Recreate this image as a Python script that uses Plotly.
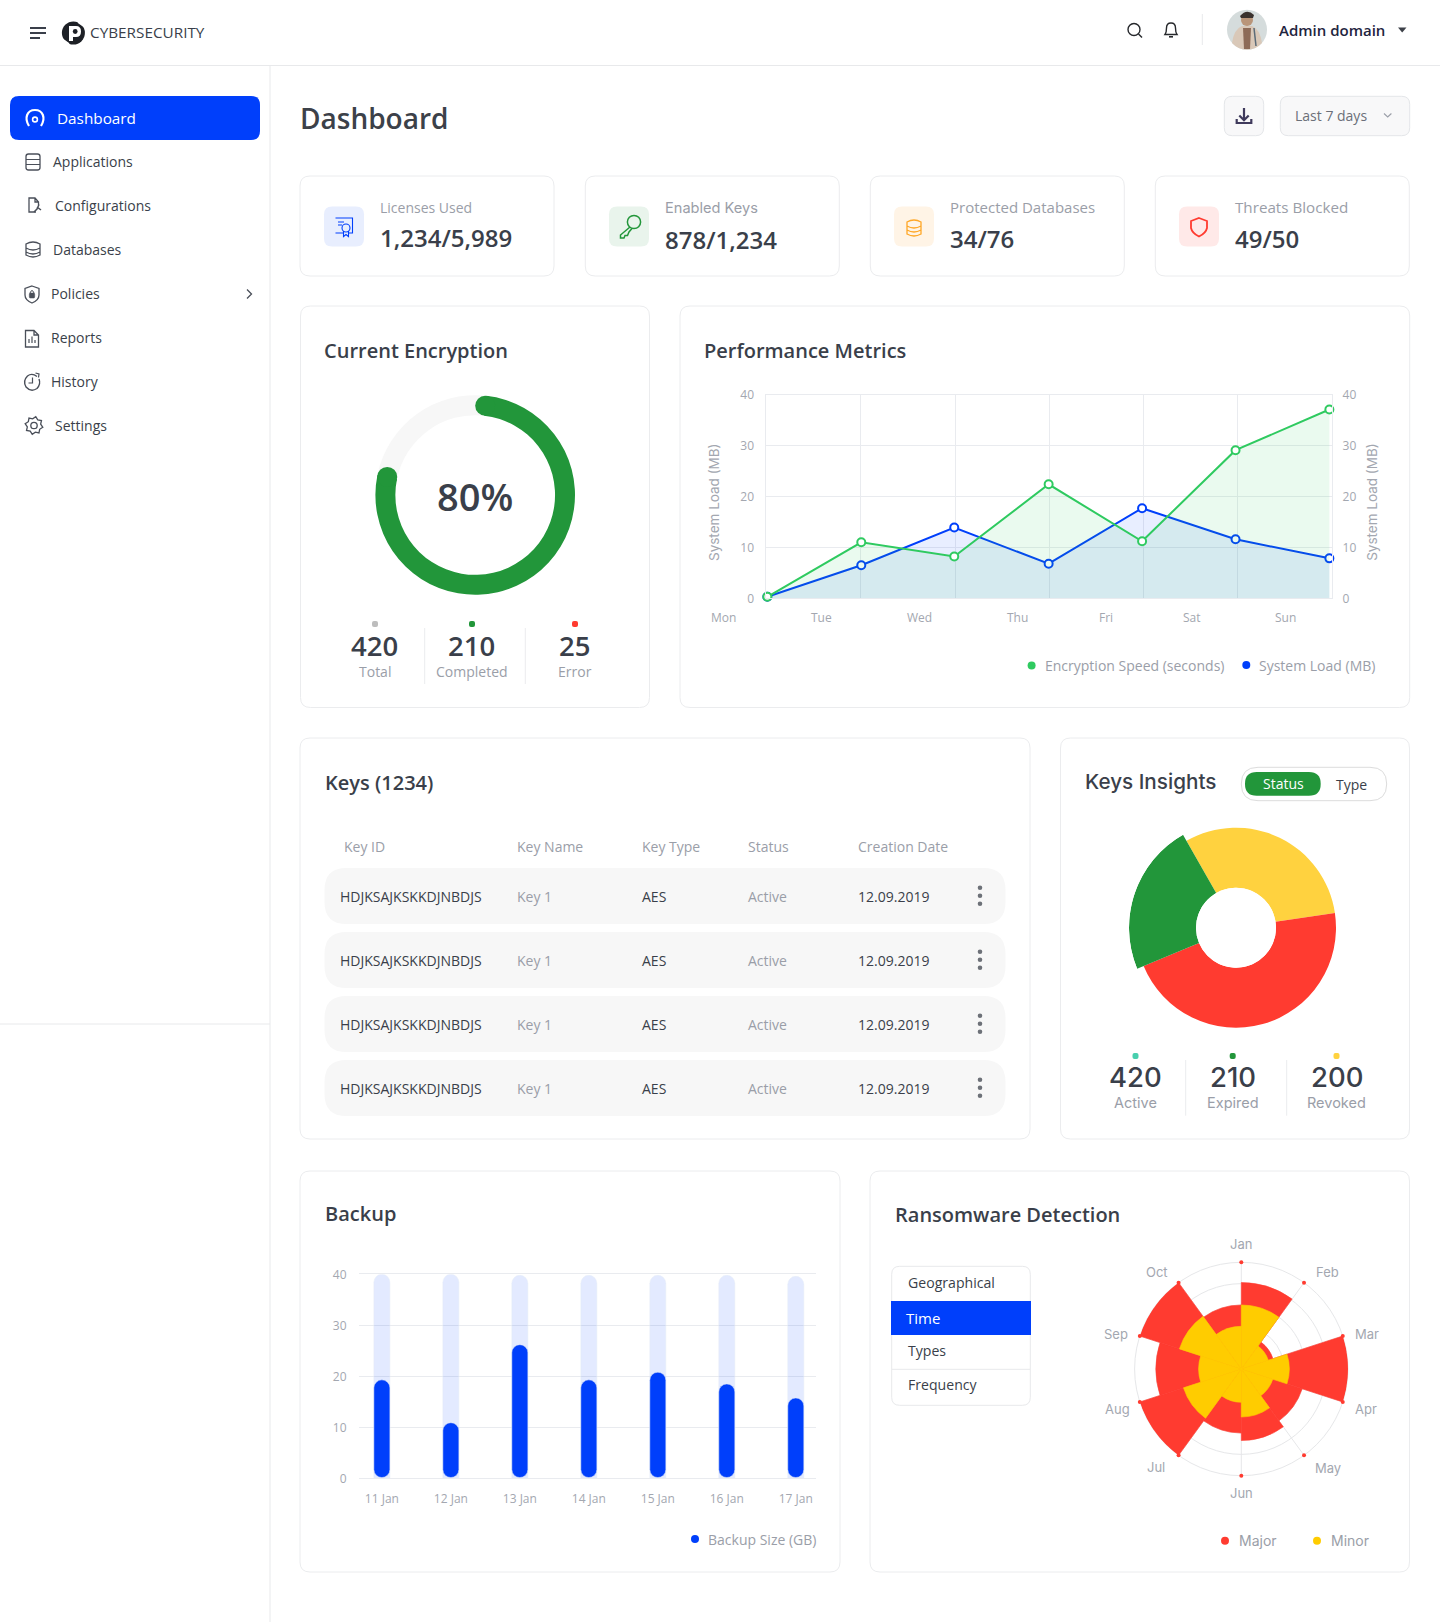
import math
import plotly.graph_objects as go

W, H = 1440, 1622
OPEN = "Open Sans"
POP = "Inter"
DARK = "#3a3f4a"
GREY = "#9a9ea8"
TICK = "#a3a7b0"
BORDER = "#ebecee"
GRID = "#e9ebef"
BLUE = "#003ffb"
GREEN = "#22963a"
RED = "#ff3b30"

# performance metrics
perf_days = ["Mon", "Tue", "Wed", "Thu", "Fri", "Sat", "Sun"]
perf_x = [0.01, 1.006, 1.992, 2.993, 3.984, 4.975, 5.97]
encryption_speed = [0.3, 11, 8.2, 22.4, 11.2, 29.1, 37.1]
system_load = [0.3, 6.5, 13.9, 6.8, 17.7, 11.6, 7.85]
axis_ticks = [0, 10, 20, 30, 40]

# backup
backup_days = ["11 Jan", "12 Jan", "13 Jan", "14 Jan", "15 Jan", "16 Jan", "17 Jan"]
backup_size = [19.3, 10.9, 26.2, 19.3, 20.8, 18.5, 15.75]
backup_track = [40, 40, 39.8, 39.8, 39.8, 39.8, 39.6]

# current encryption
gauge_percent = 80

# keys insights
insight_names = ["Revoked", "Active", "Expired"]
insight_span = [111.2, 166, 82.8]
insight_radius = [60, 60, 67]
insight_colors = ["#ffd23f", RED, GREEN]

# ransomware
months = ["Jan", "Feb", "Mar", "Apr", "May", "Jun", "Jul", "Aug", "Sep", "Oct"]
major = [4.05, 1.56, 5, 3, 3.35, 3, 5, 4, 5, 3]
minor = [3, 1.33, 2.25, 1.55, 2.25, 1.56, 2.85, 2, 3.05, 2]

# table
key_columns = ["Key ID", "Key Name", "Key Type", "Status", "Creation Date"]
key_rows = [["HDJKSAJKSKKDJNBDJS", "Key 1", "AES", "Active", "12.09.2019"]] * 4

# sidebar + cards
menu_items = ["Applications", "Configurations", "Databases", "Policies", "Reports", "History", "Settings"]
kpi_labels = ["Licenses Used", "Enabled Keys", "Protected Databases", "Threats Blocked"]
kpi_values = ["1,234/5,989", "878/1,234", "34/76", "49/50"]

shapes = []
notes = []


def rrect(x0, y0, x1, y1, r, fill="white", line=BORDER, lw=1, layer="below"):
    d = (f"M{x0+r},{y0} H{x1-r} Q{x1},{y0} {x1},{y0+r} V{y1-r} Q{x1},{y1} {x1-r},{y1} "
         f"H{x0+r} Q{x0},{y1} {x0},{y1-r} V{y0+r} Q{x0},{y0} {x0+r},{y0} Z")
    shapes.append(dict(type="path", path=d, xref="x", yref="y", fillcolor=fill, layer=layer,
                       line=dict(color=line, width=lw)))


def stroke(d, color=DARK, lw=1.4, fill="rgba(0,0,0,0)", layer="below"):
    shapes.append(dict(type="path", path=d, xref="x", yref="y", fillcolor=fill, layer=layer,
                       line=dict(color=color, width=lw)))


def circle(cx, cy, r, fill, line="rgba(0,0,0,0)", lw=0, layer="below"):
    shapes.append(dict(type="circle", xref="x", yref="y", x0=cx-r, x1=cx+r, y0=cy-r, y1=cy+r,
                       fillcolor=fill, layer=layer, line=dict(color=line, width=lw)))


def txt(x, y, s, size, color=DARK, family=OPEN, weight=400, anchor="left", angle=0):
    if anchor == "left":
        x -= 1
    # text sits a pixel low otherwise
    y -= 1
    notes.append(dict(x=x, y=y, xref="x", yref="y", text=s, showarrow=False, xanchor=anchor,
                      yanchor="middle", textangle=angle, borderpad=0,
                      font=dict(size=size, color=color, family=family, weight=weight)))


def dom_x(a, b):
    return [a / W, b / W]


def dom_y(a, b):
    return [1 - b / H, 1 - a / H]


# page frame
stroke("M0,65.5 H1440", "#e8e9eb", 1)
stroke("M270,66 V1622", "#e8e9eb", 1)
stroke("M0,1024 H270", "#e8e9eb", 1)

# header
stroke("M30,28 H46 M30,33 H46 M30,38 H40", DARK, 2)
circle(73.4, 33, 11.5, "#1d2026")
stroke("M69,26 H76 Q81,26 81,31.5 Q81,37 76,37 H73 V41 H69 Z", "white", 0, fill="white")
circle(75.2, 31.5, 2.4, "#1d2026")
stroke("M78,22 L85,27", "white", 1.6)
stroke("M62,39 L69,44", "white", 1.6)
txt(90, 33.3, "CYBERSECURITY", 15.3, DARK)
circle(1134, 29.5, 6, "white", "#26282c", 1.4)
stroke("M1138.5,34 L1142,37.5", "#26282c", 1.4)
stroke("M1165,34.5 Q1166.5,32.5 1166.5,28 Q1166.5,23 1171,23 Q1175.5,23 1175.5,28 Q1175.5,32.5 1177,34.5 Z", "#26282c", 1.4)
stroke("M1169,36.8 H1173", "#26282c", 1.6)
stroke("M1202.3,14 V45", "#e8e9eb", 1)
circle(1247, 29.7, 20, "#d5dcdc")
stroke("M1232,43 Q1234,29 1242,26 H1252 Q1260,29 1262,43 Q1256,49.7 1247,49.7 Q1238,49.7 1232,43 Z", "#d9c8b8", 0, fill="#d9c8b8")
stroke("M1243,28 H1251 L1250,49 H1244 Z", "#8d6b58", 0, fill="#8d6b58")
stroke("M1254,28 L1256,46", "#5b6b78", 1.5)
circle(1247, 20, 6, "#b99579")
stroke("M1240,16 Q1247,8 1254,15 L1253,18 H1241 Z", "#3a322e", 0, fill="#3a322e")
txt(1279, 30.5, "Admin domain", 15, "#1f2540", weight=600)
stroke("M1398,27.5 H1406.5 L1402.2,32.5 Z", "#3d4148", 0, fill="#3d4148")

# sidebar
rrect(10, 96, 260, 140, 9, fill=BLUE, line=BLUE, lw=0)
stroke("M29,126 C24,118 27,110 35,110 C43,110 46,118 41,126", "white", 2.2)
circle(35, 119.5, 2.4, BLUE, "white", 1.6)
txt(57.3, 118.7, "Dashboard", 15.3, "white", weight=500)
menu_x = [53, 55, 52.7, 51, 51, 51, 55]
menu_y = [162.3, 206, 250, 294, 338, 382, 426]
for label, mx, my in zip(menu_items, menu_x, menu_y):
    txt(mx, my, label, 14, DARK)
ICON = "#4a4f59"
rrect(26, 154, 40, 170, 2.5, fill="white", line=ICON, lw=1.3)
stroke("M26,159.5 H40 M26,164.5 H40", ICON, 1.2)
stroke("M36,212 H29 V198 H35 L38.5,202 V205 M35,198 V202 H38.5", ICON, 1.3)
stroke("M37,207 L41,210 M39,204.5 L37,209 L34,212", ICON, 1.5)
stroke("M26,244 Q33,240 40,244 V255 Q33,259 26,255 Z M26,248 Q33,252 40,248 M26,252 Q33,256 40,252", ICON, 1.3)
stroke("M32,286 L39,288.5 V295 Q39,300 32,303 Q25,300 25,295 V288.5 Z", ICON, 1.3)
rrect(29.3, 293, 34.7, 298, 1, fill=ICON, line=ICON, lw=0.5)
stroke("M30,293 Q32,288 34,293", ICON, 1)
stroke("M25.5,330.5 H34 L38.5,335 V347 H25.5 Z M34,330.5 V335 H38.5", ICON, 1.3)
stroke("M29,343 V339 M32,343 V336.5 M35,343 V340", ICON, 1.2)
stroke("M37,376.5 Q32,372.5 27.5,376 Q22.5,381 26,387 Q31,392.5 37,388.5 Q41,384 39,379", ICON, 1.4)
stroke("M32.5,377.5 V383 H28.5 M35.5,373 L39,374 L38.5,377.5", ICON, 1.2)
gear = []
for i in range(16):
    ang = i * math.pi / 8 + math.pi / 16
    rad = 9 if i % 2 == 0 else 6.8
    gear.append(f"{'M' if i == 0 else 'L'}{34 + rad*math.cos(ang):.2f},{425.5 + rad*math.sin(ang):.2f}")
stroke(" ".join(gear) + " Z", ICON, 1.3)
circle(34, 425.5, 3.2, "white", ICON, 1.3)
stroke("M247,289.5 L251.5,294 L247,298.5", ICON, 1.3)

# page title and top controls
txt(300, 118.7, "Dashboard", 28, "#3c4149", weight=600)
rrect(1224.3, 96.3, 1263.7, 135.7, 8, fill="#f8f8f9", line="#e4e6e9")
stroke("M1244,108 V120 M1239.3,115.5 L1244,120.3 L1248.7,115.5", "#3f3a5c", 2.2)
stroke("M1236.7,119 V123 H1251.3 V119", "#3f3a5c", 2.2)
rrect(1280.3, 96.3, 1409.7, 135.7, 8, fill="#f8f8f9", line="#e4e6e9")
txt(1295.3, 116, "Last 7 days", 14, "#6b6f78")
stroke("M1384,113.5 L1387.7,117 L1391.4,113.5", "#9a9ea8", 1.1)

# kpi cards
card_x = [300, 585.3, 870.3, 1155.3]
icon_x = [324, 609, 894, 1179]
icon_fill = ["#e8eefe", "#e9f4ec", "#fff4e6", "#ffe9e8"]
kpi_text_x = [380, 665.3, 950.3, 1235.3]
kpi_label_y = [208, 209, 208, 208]
kpi_value_y = [238.7, 240.7, 239.7, 239.7]
kpi_fonts = [OPEN, POP, OPEN, OPEN]
kpi_label_size = [14, 14.6, 15, 15.2]
for i in range(4):
    rrect(card_x[i], 176, card_x[i] + 254, 276, 10)
    rrect(icon_x[i], 206.5, icon_x[i] + 40, 246.5, 8, fill=icon_fill[i], line=icon_fill[i], lw=0)
    txt(kpi_text_x[i], kpi_label_y[i], kpi_labels[i], kpi_label_size[i], GREY, family=kpi_fonts[i])
    txt(kpi_text_x[i], kpi_value_y[i], kpi_values[i], 24, DARK, weight=600)
stroke("M335.5,218 H352.5 V233 H349 M343,233 H335.5 Z", BLUE, 1.1)
circle(346, 228, 4, "#e8eefe", BLUE, 1.1)
stroke("M343.5,231 V236.5 L346,234.5 L348.5,236.5 V231 M338,222 H344 M338,225 H342", BLUE, 1.1)
circle(634, 222, 6.6, "#e9f4ec", GREEN, 1.5)
stroke("M630,227 L620.5,235 V238 H624 L625,235.5 H627.5 L629,232 L632,228.5", GREEN, 1.5)
stroke("M907,222 Q914,218 921,222 V234 Q914,238 907,234 Z M907,226 Q914,230 921,226 M907,230 Q914,234 921,230", "#ffa726", 1.3)
stroke("M1199,218 L1207,221 V228 Q1206,233 1199,236.5 Q1192,233 1191,228 V221 Z", RED, 1.8)

# current encryption
rrect(300.5, 306, 649.5, 707.5, 10)
txt(324, 351.7, "Current Encryption", 20, DARK, weight=600)
txt(475.2, 497, f"{gauge_percent}%", 38, DARK, weight=600, anchor="center")
stat_y_num, stat_y_label = 646.7, 672
for sx, col, num, lab in zip([375, 472, 575], ["#bdbdbd", GREEN, RED], ["420", "210", "25"], ["Total", "Completed", "Error"]):
    rrect(sx - 3, 621, sx + 3, 627, 2, fill=col, line=col, lw=0)
    txt(sx - 0.5, stat_y_num, num, 27.5, DARK, weight=600, anchor="center")
    txt(sx - 0.5, stat_y_label, lab, 14, GREY, anchor="center")
stroke("M424.7,628 V684 M525.3,628 V684", BORDER, 1)

# performance metrics
rrect(680, 306, 1409.7, 707.5, 10)
txt(704, 351, "Performance Metrics", 20, DARK, weight=600)
perf_label_x = [723.9, 821.1, 919.3, 1017.9, 1105.7, 1192, 1285]
for day, lx in zip(perf_days, perf_label_x):
    txt(lx, 618, day, 12, TICK, anchor="center")
txt(714, 503, "System Load (MB)", 13.5, TICK, family=POP, anchor="center", angle=-90)
txt(1371.8, 503, "System Load (MB)", 13.5, TICK, family=POP, anchor="center", angle=-90)
circle(1031.6, 665.5, 4, "#2fca60")
txt(1044.7, 666, "Encryption Speed (seconds)", 14, GREY)
circle(1246.3, 665, 4, BLUE)
txt(1258.5, 666, "System Load (MB)", 14, GREY)

# keys table
rrect(300, 738, 1030, 1139, 10)
txt(324.5, 783, "Keys (1234)", 20, DARK, weight=600)
col_x = [343.9, 517.1, 642.1, 747.9, 858.3]
for name, cx in zip(key_columns, col_x):
    txt(cx, 847.3, name, 14, GREY)
row_text_x = [340.1, 517.1, 642.1, 747.9, 858.3]
row_colors = [DARK, GREY, DARK, GREY, DARK]
for i, row in enumerate(key_rows):
    top = 868 + i * 64
    rrect(324.5, top, 1005.5, top + 56, 22, fill="#f7f7f7", line="#f7f7f7", lw=0)
    for cell, cx, col in zip(row, row_text_x, row_colors):
        txt(cx, top + 29, cell, 14, col)
    for dy in [19.7, 27.7, 35.7]:
        circle(980, top + dy, 2.3, "#6d7178")

# keys insights
rrect(1060.5, 738, 1409.5, 1139, 10)
txt(1085.3, 782.3, "Keys Insights", 20.7, DARK, family=POP, weight=500)
rrect(1241.3, 767.3, 1386.7, 800.7, 16.7, line="#dcdcdc")
rrect(1245, 772, 1320.7, 795.7, 11.8, fill=GREEN, line=GREEN, lw=0)
txt(1283.3, 784.5, "Status", 14, "white", anchor="center")
txt(1351, 785, "Type", 14, DARK, anchor="center")
for sx, col, num, lab in zip([1135.5, 1232.7, 1336.5], ["#48cfae", GREEN, "#ffd23f"], ["420", "210", "200"], ["Active", "Expired", "Revoked"]):
    rrect(sx - 3, 1053, sx + 3, 1059, 2, fill=col, line=col, lw=0)
    txt(sx, 1078, num, 27.5, DARK, family=POP, weight=500, anchor="center")
    txt(sx, 1103.3, lab, 14.5, GREY, family=POP, anchor="center")
stroke("M1185.7,1060 V1115.7 M1286.7,1060 V1115.7", BORDER, 1)

# backup
rrect(300, 1171, 840, 1572, 10)
txt(324.5, 1214.5, "Backup", 20, DARK, weight=600)
circle(695, 1539, 4, BLUE)
txt(708.4, 1540, "Backup Size (GB)", 14, GREY)

# ransomware
rrect(870, 1171, 1409.5, 1572, 10)
txt(894.5, 1215, "Ransomware Detection", 20, DARK, weight=600)
rrect(891.7, 1266.3, 1030.3, 1405.3, 8, line="#e8e9eb")
stroke("M891,1301 H1031 V1335 H891 Z", BLUE, 0, fill=BLUE)
stroke("M892,1369.3 H1030", "#e8e9eb", 1)
txt(908.3, 1283, "Geographical", 14.1, DARK)
txt(906, 1318.7, "Time", 15, "white")
txt(908.3, 1351, "Types", 14.1, DARK)
txt(908.3, 1385, "Frequency", 14.1, DARK)
month_label_x = [1241.3, 1327, 1367.3, 1365.7, 1327.7, 1241.7, 1156, 1117.3, 1115.7, 1157]
month_label_y = [1245, 1272.7, 1335, 1410, 1468.7, 1493.7, 1468.3, 1410, 1335, 1272.7]
for name, mx, my in zip(months, month_label_x, month_label_y):
    txt(mx, my, name, 13, TICK, family=POP, anchor="center")
circle(1225, 1540.7, 4, RED)
txt(1238.7, 1541.7, "Major", 14, GREY, family=POP)
circle(1317, 1540.7, 4, "#ffcc00")
txt(1330.7, 1541.7, "Minor", 14, GREY, family=POP)

fig = go.Figure()

# gauge, ends are rounded off with two small circles
GAUGE_X, GAUGE_Y, GAUGE_R, GAUGE_W = 475.2, 495, 99.8, 20
cap_deg = 6.4
cap_pct = cap_deg / 3.6
fig.add_trace(go.Pie(values=[gauge_percent - 2 * cap_pct, 100 - gauge_percent + 2 * cap_pct],
                     rotation=cap_deg, direction="clockwise", sort=False, hole=0.8, textinfo="none",
                     hoverinfo="skip", marker=dict(colors=[GREEN, "#f7f7f7"], line=dict(width=0)),
                     domain=dict(x=dom_x(GAUGE_X - GAUGE_R, GAUGE_X + GAUGE_R),
                                 y=dom_y(GAUGE_Y - GAUGE_R, GAUGE_Y + GAUGE_R))))
for deg in [cap_deg, gauge_percent * 3.6 - cap_deg]:
    mid = GAUGE_R - GAUGE_W / 2
    circle(GAUGE_X + mid * math.sin(math.radians(deg)), GAUGE_Y - mid * math.cos(math.radians(deg)),
           GAUGE_W / 2, GREEN, layer="above")

# performance lines
fig.add_trace(go.Scatter(x=perf_x, y=system_load, name="System Load (MB)", mode="lines+markers",
                         xaxis="x2", yaxis="y2", fill="tozeroy", fillcolor="rgba(0,63,251,0.09)", cliponaxis=False,
                         line=dict(color=BLUE, width=2),
                         marker=dict(size=8, color="white", line=dict(color=BLUE, width=2))))
fig.add_trace(go.Scatter(x=perf_x, y=encryption_speed, name="Encryption Speed (seconds)", mode="lines+markers",
                         xaxis="x2", yaxis="y3", fill="tozeroy", fillcolor="rgba(47,202,96,0.1)", cliponaxis=False,
                         line=dict(color="#2fca60", width=2),
                         marker=dict(size=8, color="white", line=dict(color="#2fca60", width=2))))

# backup bars
fig.add_trace(go.Bar(x=backup_days, y=backup_track, xaxis="x3", yaxis="y4", width=0.232,
                     marker=dict(color="rgba(0,63,251,0.11)", cornerradius=8), showlegend=False))
fig.add_trace(go.Bar(x=backup_days, y=[v - 0.15 for v in backup_size], base=0.15, xaxis="x3", yaxis="y4", width=0.232,
                     name="Backup Size (GB)", marker=dict(color=BLUE, cornerradius=8)))

# keys insights polar
insight_theta = []
start = 330.3
for span in insight_span:
    insight_theta.append(start + span / 2)
    start += span
fig.add_trace(go.Barpolar(r=insight_radius, theta=insight_theta, width=insight_span, text=insight_names,
                          marker=dict(color=insight_colors, line=dict(width=0)), subplot="polar"))

# ransomware rose, thin outline closes the seams between sectors
spokes = [i * 36 for i in range(len(months))]
sector_mid = [s + 18 for s in spokes]
fig.add_trace(go.Barpolar(r=major, theta=sector_mid, width=36, name="Major", subplot="polar2",
                          marker=dict(color=RED, line=dict(width=0.6, color=RED))))
fig.add_trace(go.Barpolar(r=minor, theta=sector_mid, width=36, name="Minor", subplot="polar2",
                          marker=dict(color="#ffcc00", line=dict(width=0.6, color="#ffcc00"))))
fig.add_trace(go.Scatterpolar(r=[5] * len(months), theta=spokes, mode="markers", subplot="polar2",
                              marker=dict(size=4, color=RED), hoverinfo="skip"))

tick_font = dict(size=12, color=TICK, family=OPEN)
invisible = "rgba(0,0,0,0)"
fig.update_layout(
    width=W, height=H, margin=dict(l=0, r=0, t=0, b=0, pad=0, autoexpand=False), autosize=False,
    paper_bgcolor="white", plot_bgcolor="rgba(0,0,0,0)", showlegend=False, barmode="overlay",
    font=dict(family=OPEN), shapes=shapes, annotations=notes,
    # whole page as a pixel canvas for the cards and text
    xaxis=dict(domain=[0, 1], range=[0, W], visible=False, fixedrange=True),
    yaxis=dict(domain=[0, 1], range=[H, 0], visible=False, fixedrange=True),
    xaxis2=dict(domain=dom_x(766.4, 1332.2), range=[0, 6], anchor="y2", tickvals=list(range(7)), showticklabels=False,
                showgrid=True, gridcolor=GRID, zeroline=False, showline=True, mirror=True, linecolor=GRID, ticks=""),
    yaxis2=dict(domain=dom_y(394.7, 598.3), range=[0, 40], anchor="x2", tickvals=axis_ticks, gridcolor=GRID,
                zeroline=False, showline=True, mirror=True, linecolor=GRID, tickfont=tick_font,
                ticks="outside", ticklen=9, tickcolor=invisible),
    yaxis3=dict(domain=dom_y(394.7, 598.3), range=[0, 40], anchor="x2", overlaying="y2", side="right",
                tickvals=axis_ticks, showgrid=False, zeroline=False, showline=False, tickfont=tick_font,
                ticks="outside", ticklen=7, tickcolor=invisible),
    xaxis3=dict(domain=dom_x(358.9, 815.8), range=[-0.333, 6.29], anchor="y4", type="category",
                categoryorder="array", categoryarray=backup_days, showgrid=False, zeroline=False,
                showline=True, mirror=True, linecolor=GRID,
                tickfont=tick_font, ticks="outside", ticklen=9, tickcolor=invisible),
    yaxis4=dict(domain=dom_y(1274.3, 1478.3), range=[0, 40], anchor="x3", tickvals=axis_ticks, gridcolor=GRID,
                zeroline=False, showline=False, tickfont=tick_font, ticks="outside", ticklen=9, tickcolor=invisible),
    polar=dict(domain=dict(x=dom_x(1236 - 107, 1236 + 107), y=dom_y(927.7 - 107, 927.7 + 107)),
               bgcolor=invisible, hole=40 / 107,
               radialaxis=dict(visible=False, range=[0, 67]),
               angularaxis=dict(visible=False, direction="clockwise", rotation=90)),
    polar2=dict(domain=dict(x=dom_x(1241.3 - 106.7, 1241.3 + 106.7), y=dom_y(1369 - 106.7, 1369 + 106.7)),
                bgcolor=invisible, barmode="overlay",
                radialaxis=dict(range=[0, 5], tickvals=[1, 2, 3, 4, 5], showticklabels=False, ticks="",
                                showline=False, gridcolor="#e6e7e9", angle=90, layer="below traces"),
                angularaxis=dict(direction="clockwise", rotation=90, tickmode="array", tickvals=spokes,
                                 showticklabels=False, linecolor="#e6e7e9", gridcolor="#e6e7e9", ticks="",
                                 layer="below traces")),
)

fig.write_html("out.html", config=dict(displayModeBar=False),
               post_script="document.body.style.margin='0';")
